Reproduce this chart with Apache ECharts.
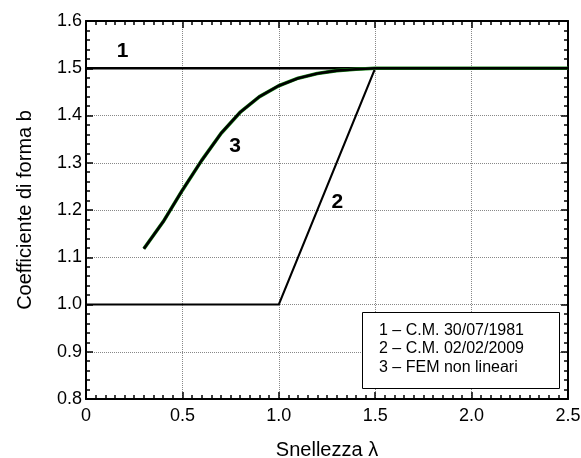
<!DOCTYPE html>
<html><head><meta charset="utf-8">
<script src="https://cdn.jsdelivr.net/npm/echarts@6/dist/echarts.min.js"></script>
<style>html,body{margin:0;padding:0;background:#fff}#c{width:581px;height:458px}</style>
</head><body><div id="c"></div>
<script>
const line1X = [0, 2.5];
const line1Y = [1.5, 1.5];
const line2X = [0, 1.0, 1.5, 2.5];
const line2Y = [1.0, 1.0, 1.5, 1.5];
const femX = [0.3, 0.4, 0.5, 0.6, 0.7, 0.8, 0.9, 1.0, 1.1, 1.2, 1.3, 1.4, 1.5, 1.75, 2.0, 2.25, 2.5];
const femY = [1.118, 1.175, 1.242, 1.305, 1.362, 1.407, 1.440, 1.463, 1.479, 1.489, 1.495, 1.498, 1.5, 1.5, 1.5, 1.5, 1.5];
const curveLabels = ['1', '2', '3'];
const curveLabelX = [0.19, 1.304, 0.773];
const curveLabelY = [1.5355, 1.217, 1.335];
const legendLines = ['1 – C.M. 30/07/1981', '2 – C.M. 02/02/2009', '3 – FEM non lineari'];
const xTitle = 'Snellezza λ';
const yTitle = 'Coefficiente di forma b';

const zip = (xs, ys) => xs.map((x, i) => [x, ys[i]]);
const font = 'Liberation Sans, Arial, sans-serif';
const chart = echarts.init(document.getElementById('c'));
const baseAxis = {
  type: 'value',
  axisLine: { show: true, onZero: false, lineStyle: { color: '#000', width: 2 } },
  axisTick: { show: true, inside: true, length: 7, lineStyle: { color: '#000', width: 1.5 } },
  minorTick: { show: true, length: 4, lineStyle: { color: '#000', width: 1.5 } },
  axisLabel: { color: '#000', fontSize: 18, fontFamily: font },
  splitLine: { show: false },
  minorSplitLine: { show: false }
};
chart.setOption({
  animation: false,
  grid: { left: 86, top: 21, right: 13, bottom: 59, containLabel: false, outerBoundsMode: 'none' },
  xAxis: [
    Object.assign({}, baseAxis, {
      min: 0, max: 2.5, interval: 0.5, minorTick: Object.assign({}, baseAxis.minorTick, { splitNumber: 10 }),
      axisLabel: Object.assign({}, baseAxis.axisLabel, { margin: 8, formatter: v => v === 0 ? '0' : v.toFixed(1) }),
      splitLine: { show: true, lineStyle: { color: '#888', type: [1, 1], width: 1 } },
      name: xTitle, nameLocation: 'middle', nameGap: 41,
      nameTextStyle: { color: '#000', fontSize: 20, fontFamily: font }
    }),
    Object.assign({}, baseAxis, {
      position: 'top', min: 0, max: 2.5, interval: 0.5,
      minorTick: Object.assign({}, baseAxis.minorTick, { splitNumber: 10 }),
      axisLabel: { show: false }
    })
  ],
  yAxis: [
    Object.assign({}, baseAxis, {
      min: 0.8, max: 1.6, interval: 0.1, minorTick: Object.assign({}, baseAxis.minorTick, { splitNumber: 5 }),
      axisLabel: Object.assign({}, baseAxis.axisLabel, { margin: 4, formatter: v => v.toFixed(1) }),
      splitLine: { show: true, lineStyle: { color: '#888', type: [1, 1], width: 1 } },
      name: yTitle, nameLocation: 'middle', nameGap: 51,
      nameTextStyle: { color: '#000', fontSize: 20, fontFamily: font }
    }),
    Object.assign({}, baseAxis, {
      position: 'right', min: 0.8, max: 1.6, interval: 0.1,
      minorTick: Object.assign({}, baseAxis.minorTick, { splitNumber: 5 }),
      axisLabel: { show: false }
    })
  ],
  series: [
    { type: 'line', data: zip(line1X, line1Y), symbol: 'none', lineStyle: { color: '#000', width: 2.5 }, z: 3 },
    { type: 'line', data: zip(line2X, line2Y), symbol: 'none', lineStyle: { color: '#000', width: 2 }, z: 3 },
    { type: 'line', data: zip(femX, femY), symbol: 'none', lineStyle: { color: '#1a8a1a', width: 3.6, join: 'round' }, z: 4 },
    { type: 'line', data: zip(femX, femY), symbol: 'none', lineStyle: { color: '#000', width: 2.6, join: 'round' }, z: 5 }
  ]
});
const labelGraphics = curveLabels.map((t, i) => {
  const p = chart.convertToPixel({ gridIndex: 0 }, [curveLabelX[i], curveLabelY[i]]);
  return { type: 'text', x: p[0], y: p[1], z: 12,
    style: { text: t, font: 'bold 21px ' + font, fill: '#000', align: 'center', verticalAlign: 'middle' } };
});
chart.setOption({
  graphic: [
    { type: 'rect', left: 362, top: 312, shape: { width: 197, height: 76 }, style: { fill: '#fff', stroke: '#000', lineWidth: 1 }, z: 10 },
    { type: 'text', left: 379, top: 321, style: { text: legendLines.join('\n'), font: '16px ' + font, fill: '#000', lineHeight: 18.5 }, z: 11 }
  ].concat(labelGraphics)
});
</script></body></html>
